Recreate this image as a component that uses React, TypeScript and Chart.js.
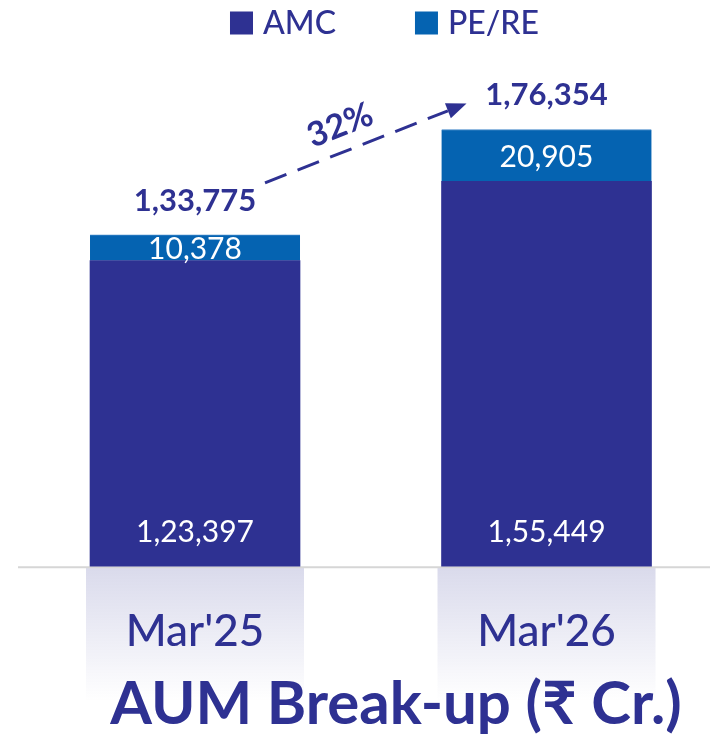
import React, { useEffect, useRef } from "react";
import { Chart, registerables } from "chart.js";

Chart.register(...registerables);

const categories = ["Mar'25", "Mar'26"];
const seriesNames = ["AMC", "PE/RE"];
const amcValues = [123397, 155449];
const pereValues = [10378, 20905];
const totalValues = [133775, 176354];
const growthLabels = ["32%"];
const titleText = "AUM Break-up (₹ Cr.)";

const AMC_COLOR = "#2E3192";
const PERE_COLOR = "#0563B1";
const TEXT_COLOR = "#2E3192";
const FONT = "Lato, 'Noto Sans', sans-serif";

function fmtIN(n: number): string {
  const s = Math.round(n).toString();
  if (s.length <= 3) return s;
  const last3 = s.slice(-3);
  let rest = s.slice(0, -3);
  const parts: string[] = [];
  while (rest.length > 2) {
    parts.unshift(rest.slice(-2));
    rest = rest.slice(0, -2);
  }
  if (rest) parts.unshift(rest);
  return parts.join(",") + "," + last3;
}

const decorPlugin = {
  id: "decor",
  beforeDraw(chart: any) {
    const ctx = chart.ctx;
    const y0 = chart.scales.y.getPixelForValue(0);
    const meta = chart.getDatasetMeta(0);
    ctx.save();
    meta.data.forEach((bar: any) => {
      const w = bar.width + 8;
      const x = bar.x - w / 2;
      const h = 135;
      const g = ctx.createLinearGradient(0, y0, 0, y0 + h);
      g.addColorStop(0, "rgba(46,49,146,0.18)");
      g.addColorStop(1, "rgba(46,49,146,0)");
      ctx.fillStyle = g;
      ctx.fillRect(x, y0 + 1, w, h);
    });
    ctx.strokeStyle = "#d6d6d6";
    ctx.lineWidth = 2;
    ctx.beginPath();
    ctx.moveTo(18, y0 + 1);
    ctx.lineTo(chart.width, y0 + 1);
    ctx.stroke();
    ctx.restore();
  },
  afterDatasetsDraw(chart: any) {
    const ctx = chart.ctx;
    const yS = chart.scales.y;
    const y0 = yS.getPixelForValue(0);
    const amcMeta = chart.getDatasetMeta(0);
    const peMeta = chart.getDatasetMeta(1);
    ctx.save();
    ctx.textAlign = "center";
    ctx.textBaseline = "middle";
    amcMeta.data.forEach((bar: any, i: number) => {
      ctx.fillStyle = "#ffffff";
      ctx.font = `400 30px ${FONT}`;
      ctx.fillText(fmtIN(amcValues[i]), bar.x, y0 - 34);
      const pb = peMeta.data[i];
      ctx.fillText(fmtIN(pereValues[i]), pb.x, (pb.y + pb.base) / 2 + 2);
      ctx.fillStyle = TEXT_COLOR;
      ctx.font = `700 31px ${FONT}`;
      ctx.fillText(fmtIN(totalValues[i]), pb.x, pb.y - 34);
    });
    const b0 = peMeta.data[0];
    const b1 = peMeta.data[1];
    const sx = b0.x + 70, sy = b0.y - 52;
    const ex = b1.x - 80, ey = b1.y - 26;
    const ang = Math.atan2(ey - sy, ex - sx);
    const headL = 20, headW = 8;
    const lx = ex - Math.cos(ang) * headL, ly = ey - Math.sin(ang) * headL;
    ctx.strokeStyle = TEXT_COLOR;
    ctx.lineWidth = 3;
    ctx.setLineDash([23, 12]);
    ctx.beginPath();
    ctx.moveTo(sx, sy);
    ctx.lineTo(lx, ly);
    ctx.stroke();
    ctx.setLineDash([]);
    ctx.fillStyle = TEXT_COLOR;
    ctx.beginPath();
    ctx.moveTo(ex, ey);
    ctx.lineTo(lx + Math.sin(ang) * headW, ly - Math.cos(ang) * headW);
    ctx.lineTo(lx - Math.sin(ang) * headW, ly + Math.cos(ang) * headW);
    ctx.closePath();
    ctx.fill();
    const t = 0.42;
    const px = sx + (ex - sx) * t + Math.sin(ang) * 26;
    const py = sy + (ey - sy) * t - Math.cos(ang) * 26;
    ctx.translate(px, py);
    ctx.rotate(ang);
    ctx.font = `700 34px ${FONT}`;
    ctx.fillText(growthLabels[0], 0, 0);
    ctx.restore();
  },
  afterDraw(chart: any) {
    const ctx = chart.ctx;
    ctx.save();
    ctx.font = `500 32px ${FONT}`;
    ctx.textBaseline = "middle";
    ctx.textAlign = "left";
    const colors = [AMC_COLOR, PERE_COLOR];
    const box = 23, gapText = 10, gapItem = 79;
    const widths = seriesNames.map((n) => box + gapText + ctx.measureText(n).width);
    const total = widths.reduce((a, b) => a + b, 0) + gapItem * (widths.length - 1);
    let x = 384.5 - total / 2;
    const cy = 23;
    seriesNames.forEach((n, i) => {
      ctx.fillStyle = colors[i];
      ctx.fillRect(x, cy - box / 2, box, box);
      ctx.fillStyle = TEXT_COLOR;
      ctx.fillText(n, x + box + gapText, cy + 1);
      x += widths[i] + gapItem;
    });
    ctx.restore();
  },
};

export default function App() {
  const ref = useRef<HTMLCanvasElement | null>(null);
  useEffect(() => {
    if (!ref.current) return;
    const chart = new Chart(ref.current, {
      type: "bar",
      data: {
        datasets: [
          {
            label: seriesNames[0],
            data: amcValues.map((v, i) => ({ x: i, y: v })),
            backgroundColor: AMC_COLOR,
            barThickness: 210,
            clip: false as any,
          },
          {
            label: seriesNames[1],
            data: pereValues.map((v, i) => ({ x: i, y: v })),
            backgroundColor: PERE_COLOR,
            borderColor: "#3f86c8",
            borderWidth: { top: 1, left: 0, right: 0, bottom: 0 } as any,
            barThickness: 210,
            clip: false as any,
          },
        ],
      },
      options: {
        animation: false,
        responsive: true,
        maintainAspectRatio: false,
        layout: { autoPadding: false, padding: { left: 82, right: 0, top: 60, bottom: 0 } },
        scales: {
          x: {
            type: "linear",
            stacked: true,
            offset: false,
            min: -0.3215,
            max: 1.4651,
            grid: { display: false, drawTicks: false },
            border: { display: false },
            afterBuildTicks: (axis: any) => {
              axis.ticks = categories.map((_, i) => ({ value: i }));
            },
            ticks: {
              autoSkip: false,
              maxRotation: 0,
              minRotation: 0,
              color: TEXT_COLOR,
              padding: 39,
              font: { family: FONT, size: 44, weight: 500 as any },
              callback: (v: any) => categories[Number(v)] ?? "",
            },
          },
          y: {
            stacked: true,
            display: false,
            min: 0,
            max: 204400,
          },
        },
        plugins: {
          legend: { display: false },
          tooltip: { enabled: false },
          title: {
            display: true,
            position: "bottom",
            text: titleText,
            color: TEXT_COLOR,
            font: { family: FONT, size: 60, weight: "bold" },
            padding: { top: -28, bottom: -2 },
          },
        },
      },
      plugins: [decorPlugin],
    });
    return () => chart.destroy();
  }, []);
  return (
    <div style={{ position: "absolute", left: 0, top: 0, width: 710, height: 739 }}>
      <canvas ref={ref} />
    </div>
  );
}
